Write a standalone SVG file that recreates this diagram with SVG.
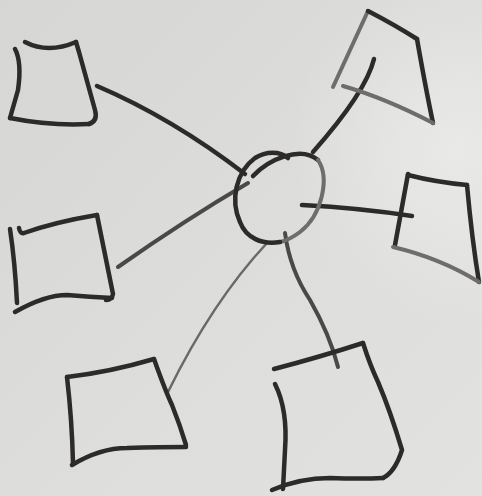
<svg xmlns="http://www.w3.org/2000/svg" width="482" height="496" viewBox="0 0 482 496">
<defs>
<linearGradient id="bg" x1="0" y1="0" x2="1" y2="1">
<stop offset="0" stop-color="#d6d6d4"/>
<stop offset="0.6" stop-color="#dededc"/>
<stop offset="1" stop-color="#e2e2e0"/>
</linearGradient>
<radialGradient id="glare" cx="0.95" cy="0.3" r="0.35">
<stop offset="0" stop-color="#ececea" stop-opacity="0.8"/>
<stop offset="1" stop-color="#ececea" stop-opacity="0"/>
</radialGradient>
</defs>
<style>
.ink{fill:none;stroke:#2c2a2a;stroke-width:4.5;stroke-linecap:round;stroke-linejoin:round}
.mid{fill:none;stroke:#4a4848;stroke-width:4;stroke-linecap:round;stroke-linejoin:round}
.light{fill:none;stroke:#6e6c6c;stroke-width:4;stroke-linecap:round;stroke-linejoin:round}
.thin{fill:none;stroke:#6a6868;stroke-width:2.5;stroke-linecap:round}
</style>
<rect width="482" height="496" fill="url(#bg)"/>
<rect width="482" height="496" fill="url(#glare)"/>

<g id="connectors">
<path class="ink" d="M97,86 Q172,118 245,174"/>
<path class="mid" d="M118,267 Q185,220 248,183"/>
<path class="thin" d="M168,392 Q212,302 267,243"/>
<path class="mid" d="M285,233 Q290,270 310,300 Q330,335 338,367"/>
<path class="ink" d="M302,205 Q360,208 412,216"/>
<path class="ink" d="M374,59 Q366,92 313,152"/>
</g>

<g id="hub">
<path class="ink" d="M253,176 C268,160 300,145 318,160"/>
<path class="light" d="M318,160 C330,178 322,215 300,232 C292,238 285,241 280,242"/>
<path class="ink" d="M280,242 C262,245 246,238 240,222 C230,200 236,172 255,158 C266,151 280,151 288,158"/>
</g>

<g id="node-top-left">
<path class="ink" d="M15,49 Q22,62 18,90 L10,118"/>
<path class="ink" d="M25,42 Q48,54 76,42"/>
<path class="ink" d="M76,42 L79,52 L95,110 Q98,121 89,124"/>
<path class="ink" d="M10,118 Q50,126 89,124"/>
</g>

<g id="node-top-right">
<path class="light" d="M368,11 L333,87"/>
<path class="ink" d="M368,11 Q395,25 417,39"/>
<path class="ink" d="M417,39 Q426,90 433,123"/>
<path class="light" d="M343,86 Q385,98 433,123"/>
</g>

<g id="node-right">
<path class="ink" d="M408,174 L395,245"/>
<path class="ink" d="M408,175 Q435,182 467,185"/>
<path class="ink" d="M467,185 Q472,240 479,282"/>
<path class="light" d="M393,247 Q440,258 479,282"/>
</g>

<g id="node-left">
<path class="ink" d="M10,229 Q15,262 17,303"/>
<path class="ink" d="M19,228 Q20,234 24,233 Q55,222 97,215"/>
<path class="ink" d="M97,215 Q105,255 113,294 Q112,300 106,300"/>
<path class="ink" d="M15,312 Q45,295 67,295 Q90,297 112,298"/>
</g>

<g id="node-bottom-left">
<path class="ink" d="M67,377 Q72,420 73,463"/>
<path class="ink" d="M67,377 Q110,372 154,359"/>
<path class="ink" d="M154,359 Q165,390 172,405 Q180,425 186,445"/>
<path class="ink" d="M72,465 Q100,448 127,448 Q160,447 186,447"/>
</g>

<g id="node-bottom-right">
<path class="ink" d="M274,369 Q320,357 363,343"/>
<path class="ink" d="M363,343 Q370,365 378,382 Q390,410 402,450 Q395,472 383,478"/>
<path class="ink" d="M275,384 Q288,410 285,450 L283,489"/>
<path class="ink" d="M272,490 Q300,478 330,478 Q360,479 383,478"/>
</g>
</svg>
